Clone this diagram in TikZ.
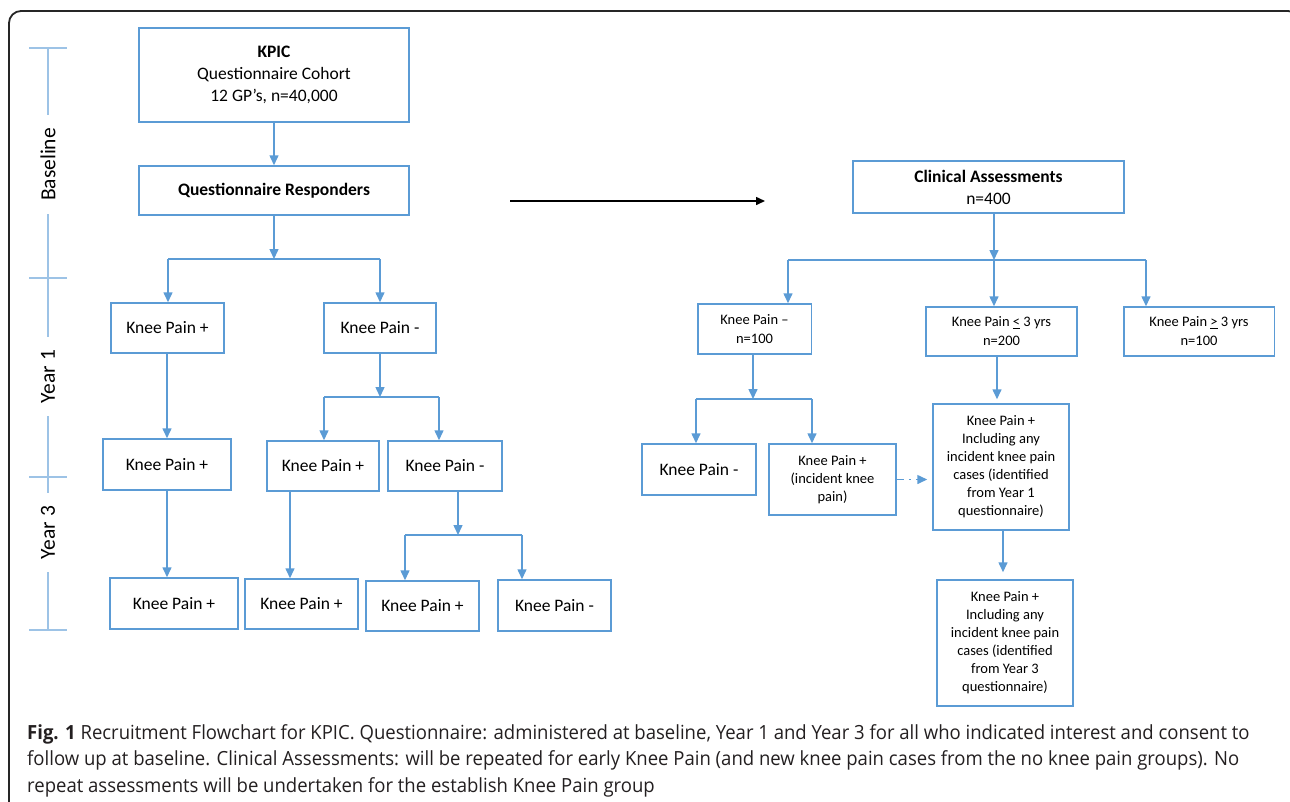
\documentclass[tikz,border=0pt]{standalone}
\usepackage{fontspec}
\setmainfont{Carlito}
\newfontfamily\capfont[FakeStretch=0.95]{Open Sans}
\usepackage{tikz}
\usetikzlibrary{positioning,arrows.meta}

\definecolor{boxblue}{RGB}{91,155,213}
\definecolor{lineblue}{RGB}{157,195,230}
\definecolor{captext}{RGB}{35,31,32}

\tikzset{
    box/.style={draw=boxblue, line width=1.5pt, align=center, inner sep=2pt, font=\fontsize{17.5}{22}\selectfont},
    sbox/.style={box, font=\fontsize{14.5}{18}\selectfont},
    arr/.style={draw=boxblue, line width=1.5pt, -{Triangle[length=10pt,width=9pt]}},
    bar/.style={draw=boxblue, line width=1.5pt},
    tline/.style={draw=lineblue, line width=1.5pt},
    period/.style={rotate=90, fill=white, inner xsep=13pt, inner ysep=0pt, font=\fontsize{21.5}{24}\selectfont},
    capline/.style={anchor=base west, inner sep=0pt, text=captext, font=\capfont\fontsize{19.5}{26}\selectfont},
}

\begin{document}
\begin{tikzpicture}[x=1pt,y=-1pt]
    \useasboundingbox (0,0) rectangle (1290,801);
    \clip (0,0) rectangle (1290,801);
    \draw[line width=1.8pt, rounded corners=12pt, black!85] (9,840) -- (9,11) -- (1300,11) -- (1300,840);

    % time line
    \draw[tline] (48,48) -- (48,630);
    \foreach \y in {48,278,477,630}
        \draw[tline] (29,\y) -- (67,\y);
    \node[period] (base) at (48,164.5) {Baseline};
    \node[period] (yr1) at (48,376.5) {Year 1};
    \node[period] (yr3) at (48,532.5) {Year 3};

    % questionnaire cohort
    \node[box, minimum width=270pt, minimum height=94pt] (kpic) at (274,75) {\textbf{KPIC}\\Questionnaire Cohort\\12 GP’s, n=40,000};
    \node[box, minimum width=270pt, minimum height=49pt] (qresp) at (274,190.5) {\textbf{Questionnaire Responders}};

    \node[box, minimum width=113pt, minimum height=50pt] (kpa1) at (167.5,328) {Knee Pain +};
    \node[box, minimum width=112pt, minimum height=50pt] (kpb1) at (380,328) {Knee Pain -};

    \node[box, minimum width=128pt, minimum height=51pt] (kpa2) at (167,464.5) {Knee Pain +};
    \node[box, minimum width=112pt, minimum height=50pt] (kpc2) at (323,466) {Knee Pain +};
    \node[box, minimum width=114pt, minimum height=50pt] (kpd2) at (445,466) {Knee Pain -};

    \node[box, minimum width=128pt, minimum height=51pt] (kpa3) at (174,603.5) {Knee Pain +};
    \node[box, minimum width=113pt, minimum height=50pt] (kpc3) at (301.5,604) {Knee Pain +};
    \node[box, minimum width=113pt, minimum height=50pt] (kpe3) at (422.5,606) {Knee Pain +};
    \node[box, minimum width=113pt, minimum height=51pt] (kpf3) at (554.5,605.5) {Knee Pain -};

    \coordinate (s1) at (274,259);
    \coordinate (s1l) at (168,259);
    \coordinate (s1r) at (380,259);
    \coordinate (c2) at (167,0);
    \coordinate (s2) at (380,397);
    \coordinate (s2l) at (324,397);
    \coordinate (s2r) at (439,397);
    \coordinate (c3) at (290,0);
    \coordinate (s4) at (458,535);
    \coordinate (s4l) at (405,535);
    \coordinate (s4r) at (522,535);

    \draw[arr] (kpic) -- (qresp);
    \draw[arr] (qresp) -- (s1);
    \draw[bar] (s1l) -- (s1r);
    \draw[arr] (s1l) -- (s1l |- kpa1.north);
    \draw[arr] (s1r) -- (s1r |- kpb1.north);
    \draw[arr] (kpa1.south -| c2) -- (kpa2.north -| c2);
    \draw[arr] (kpa2.south -| c2) -- (kpa3.north -| c2);
    \draw[arr] (kpb1) -- (s2);
    \draw[bar] (s2l) -- (s2r);
    \draw[arr] (s2l) -- (s2l |- kpc2.north);
    \draw[arr] (s2r) -- (s2r |- kpd2.north);
    \draw[arr] (kpc2.south -| c3) -- (kpc3.north -| c3);
    \draw[arr] (kpd2.south -| s4) -- (s4);
    \draw[bar] (s4l) -- (s4r);
    \draw[arr] (s4l) -- (s4l |- kpe3.north);
    \draw[arr] (s4r) -- (s4r |- kpf3.north);

    % to clinical assessments
    \coordinate (pa) at (510,201);
    \coordinate (pb) at (765,201);
    \draw[line width=1.5pt, -{Triangle[length=9pt,width=8pt]}] (pa) -- (pb);

    \node[box, minimum width=271pt, minimum height=52pt] (clin) at (988.5,187) {\textbf{Clinical Assessments}\\n=400};

    \node[sbox, minimum width=113.5pt, minimum height=50pt, font=\fontsize{14.5}{19}\selectfont] (kpneg) at (754.5,329) {Knee Pain –\\n=100};
    \node[sbox, minimum width=151pt, minimum height=49pt, font=\fontsize{14.5}{19}\selectfont] (kple) at (1001.5,331.5) {Knee Pain \underline{<} 3 yrs\\n=200};
    \node[sbox, minimum width=150.5pt, minimum height=49pt, font=\fontsize{14.5}{19}\selectfont] (kpge) at (1199,331.5) {Knee Pain \underline{>} 3 yrs\\n=100};

    \node[box, minimum width=114pt, minimum height=51pt] (kpneg2) at (699,469.5) {Knee Pain -};
    \node[sbox, minimum width=127pt, minimum height=71pt] (kpinc) at (832.5,479.5) {Knee Pain +\\(incident knee\\pain)};
    \node[sbox, minimum width=136pt, minimum height=126pt] (kpy1) at (1001,467) {Knee Pain +\\Including any\\incident knee pain\\cases (identified\\from Year 1\\questionnaire)};
    \node[sbox, minimum width=136pt, minimum height=126pt] (kpy3) at (1005,643) {Knee Pain +\\Including any\\incident knee pain\\cases (identified\\from Year 3\\questionnaire)};

    \coordinate (s5) at (994,260);
    \coordinate (s5l) at (788,260);
    \coordinate (s5r) at (1146,260);
    \coordinate (s6) at (753,399);
    \coordinate (s6l) at (696,399);
    \coordinate (s6r) at (812,399);
    \coordinate (c7) at (997,0);
    \coordinate (c8) at (1003,0);

    \draw[arr] (clin.south -| s5) -- (s5);
    \draw[bar] (s5l) -- (s5r);
    \draw[arr] (s5l) -- (s5l |- kpneg.north);
    \draw[arr] (s5) -- (s5 |- kple.north);
    \draw[arr] (s5r) -- (s5r |- kpge.north);
    \draw[arr] (kpneg.south -| s6) -- (s6);
    \draw[bar] (s6l) -- (s6r);
    \draw[arr] (s6l) -- (s6l |- kpneg2.north);
    \draw[arr] (s6r) -- (s6r |- kpinc.north);
    \draw[arr, dash pattern=on 7pt off 5pt on 2pt off 5pt, shorten >=5pt] (kpinc.east) -- (kpinc.east -| kpy1.west);
    \draw[arr, shorten >=4pt] (kple.south -| c7) -- (kpy1.north -| c7);
    \draw[arr, shorten >=7pt] (kpy1.south -| c8) -- (kpy3.north -| c8);

    % caption
    \node[capline] (cap1) at (27,739) {\textbf{Fig. 1} Recruitment Flowchart for KPIC. Questionnaire: administered at baseline, Year 1 and Year 3 for all who indicated interest and consent to};
    \node[capline] (cap2) at (27,765) {follow up at baseline. Clinical Assessments: will be repeated for early Knee Pain (and new knee pain cases from the no knee pain groups). No};
    \node[capline] (cap3) at (27,792) {repeat assessments will be undertaken for the establish Knee Pain group};
\end{tikzpicture}
\end{document}
